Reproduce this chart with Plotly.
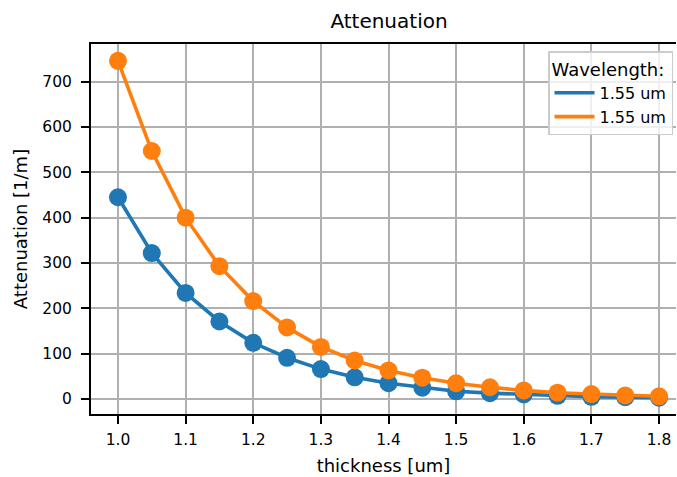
import plotly.graph_objects as go

# thickness sweep [um]
thickness = [1.00, 1.05, 1.10, 1.15, 1.20, 1.25, 1.30, 1.35, 1.40,
             1.45, 1.50, 1.55, 1.60, 1.65, 1.70, 1.75, 1.80]

# attenuation [1/m] for the two runs
atten_a = [445, 322, 234, 171, 124, 91, 66, 48, 35,
           25, 17, 13, 10, 7, 5, 4, 3]
atten_b = [746, 547, 400, 293, 216, 158, 115, 85, 63,
           47, 35, 26, 19, 14, 11, 8, 6]

series_names = ["1.55 um", "1.55 um"]
colors = ["#1f77b4", "#ff7f0e"]

x_ticks = [1.0, 1.1, 1.2, 1.3, 1.4, 1.5, 1.6, 1.7, 1.8]
y_ticks = [0, 100, 200, 300, 400, 500, 600, 700]

FONT = "DejaVu Sans"
LW = 3.6

fig = go.Figure()
for ys, c in zip([atten_a, atten_b], colors):
    fig.add_trace(go.Scatter(
        x=thickness, y=ys, mode="lines+markers", showlegend=False,
        line=dict(color=c, width=LW),
        marker=dict(color=c, size=18),
    ))

# legend entries drawn as plain line handles
for name, c in zip(series_names, colors):
    fig.add_trace(go.Scatter(
        x=[None], y=[None], mode="lines", name=name,
        line=dict(color=c, width=LW),
    ))

axis_common = dict(
    showline=True, linecolor="black", linewidth=2,
    ticks="outside", ticklen=8, tickwidth=2, tickcolor="black",
    showgrid=True, gridcolor="#b0b0b0", gridwidth=2,
    zeroline=False, tickfont=dict(family=FONT, size=15.5, color="black"),
)

fig.update_xaxes(
    range=[0.9601, 1.8251], tickvals=x_ticks,
    ticktext=[f"{v:.1f}" for v in x_ticks], mirror=True,
    ticklabelstandoff=2,
    title=dict(text="thickness [um]", font=dict(family=FONT, size=18, color="black"), standoff=12),
    **axis_common,
)
fig.update_yaxes(
    range=[-33, 783], tickvals=y_ticks, mirror=False,
    ticklabelstandoff=6,
    title=dict(text="Attenuation [1/m]", font=dict(family=FONT, size=18, color="black"), standoff=10),
    **axis_common,
)

fig.update_layout(
    width=677, height=477,
    margin=dict(l=91, r=1, t=44, b=63),
    plot_bgcolor="white", paper_bgcolor="white",
    font=dict(family=FONT, color="black"),
    title=dict(text="Attenuation", x=389 / 677, xanchor="center",
               y=1 - 21 / 477, yanchor="middle",
               font=dict(family=FONT, size=20, color="black")),
    legend=dict(
        x=(548 - 91) / 585, xanchor="left", y=1 - (51 - 44) / 369, yanchor="top",
        bgcolor="rgba(255,255,255,0.8)", bordercolor="#cccccc", borderwidth=1.5,
        font=dict(family=FONT, size=16, color="black"),
        title=dict(text="Wavelength:", font=dict(family=FONT, size=18, color="black")),
        itemwidth=40, tracegroupgap=0,
    ),
)

fig.write_html("out.html")
